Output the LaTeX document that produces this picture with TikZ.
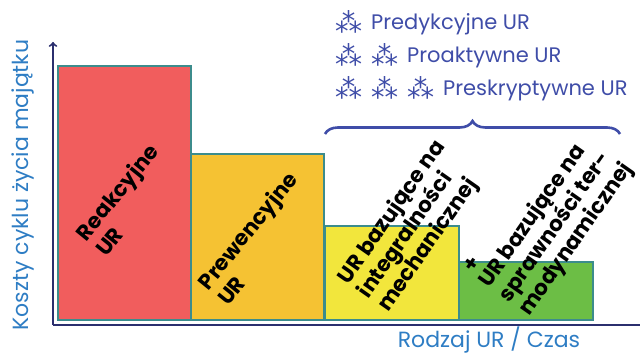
\documentclass[tikz,border=0pt]{standalone}
\usepackage{fontspec}
\setmainfont{Poppins}
\newfontfamily\symfont{DejaVu Sans}
\usetikzlibrary{decorations.pathreplacing}
\definecolor{axisblue}{HTML}{2B2F6E}
\definecolor{labelblue}{HTML}{2E7DC4}
\definecolor{legendblue}{HTML}{3F4DA8}
\definecolor{edgeteal}{HTML}{3C8C8C}
\definecolor{barred}{HTML}{F15D5D}
\definecolor{barorange}{HTML}{F5C233}
\definecolor{baryellow}{HTML}{F2E63C}
\definecolor{bargreen}{HTML}{6CBE45}
\newcommand{\astgrp}{\makebox[36pt][l]{\raisebox{-3pt}{\symfont\fontsize{27}{27}\selectfont\char"2042}}}
\tikzset{
  bar/.style={draw=edgeteal,line width=1.2pt},
  barlabel/.style={anchor=base west,align=left,font=\bfseries\fontsize{21.5}{#1}\selectfont,inner sep=0pt},
  barlabel/.default=25,
  legend/.style={anchor=base west,text=legendblue,font=\fontsize{21}{24}\selectfont,inner sep=0pt},
  axislabel/.style={text=labelblue,inner sep=0pt}
}
\begin{document}
\begin{tikzpicture}[x=1pt,y=1pt]
\useasboundingbox (0,0) rectangle (640,354);
% bars
\draw[bar,fill=barred] (58,34) rectangle (191,288);
\draw[bar,fill=barorange] (191,34) rectangle (324,200);
\draw[bar,fill=baryellow] (325,34) rectangle (459,128);
\draw[bar,fill=bargreen] (459,34) rectangle (593,92);
% axes
\coordinate (o) at (53,29);
\coordinate (ytop) at (53,312);
\coordinate (xend) at (640,29);
\draw[axisblue,line width=2pt,->] (o) -- (ytop);
\draw[axisblue,line width=2pt] (o) -- (xend);
\node[axislabel,rotate=90,font=\fontsize{22}{24}\selectfont] (ylab) at (23,169) {Koszty cyklu życia majątku};
\node[axislabel,anchor=base,font=\fontsize{22}{24}\selectfont] (xlab) at (489,7) {Rodzaj UR / Czas};
% labels of bars
\node[barlabel,rotate=51] (reak) at (106,96) {Reakcyjne\\UR};
\node[barlabel,rotate=51] (prew) at (228,47) {Prewencyjne\\UR};
\node[barlabel=24,rotate=55] (integ) at (388,41) {UR bazujące na\\integralności\\mechanicznej};
\node[barlabel=22,rotate=55] (spraw) at (529,37) {\hspace{3pt}+\\UR bazujące na\\sprawności ter-\\modynamicznej};
% brace
\coordinate (bl) at (325,220);
\coordinate (br) at (620,220);
\draw[legendblue,line width=2.6pt,decorate,decoration={brace,amplitude=13pt}] (bl) -- (br);
% legend
\node[legend] (pred) at (335,324) {\astgrp Predykcyjne UR};
\node[legend] (proa) at (335,291) {\astgrp\astgrp Proaktywne UR};
\node[legend] (pres) at (335,258) {\astgrp\astgrp\astgrp Preskryptywne UR};
\end{tikzpicture}
\end{document}
